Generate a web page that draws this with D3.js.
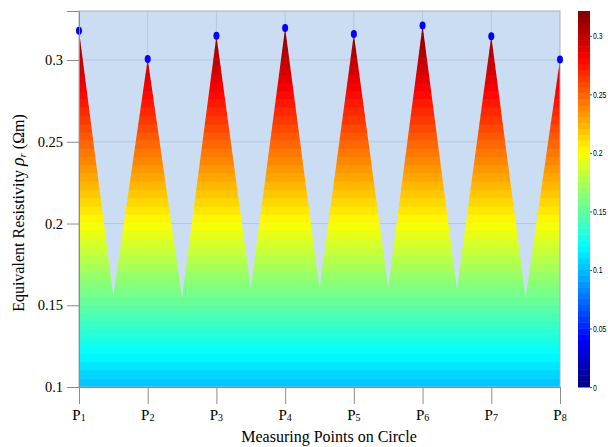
<!DOCTYPE html>
<html>
<head>
<meta charset="utf-8">
<script src="https://cdn.jsdelivr.net/npm/d3@7"></script>
<style>
	body { margin: 0; background: #fff; }
	svg { display: block; }
</style>
</head>
<body>
<div id="chart"></div>
<script>

// measuring points and the values
const points = ['1', '2', '3', '4', '5', '6', '7', '8']
const peaks = [0.3179, 0.3006, 0.3149, 0.3196, 0.3159, 0.3212, 0.3145, 0.3004]
// minimum between two neighbouring points
const valleys = [0.1554, 0.1544, 0.1600, 0.1599, 0.1605, 0.1595, 0.1544]
const yTicks = [0.1, 0.15, 0.2, 0.25, 0.3]
const cbTicks = [0, 0.05, 0.1, 0.15, 0.2, 0.25, 0.3]
const levels = 64

const width = 608
	, height = 447
	, plotLeft = 79
	, plotRight = 560
	, plotTop = 11
	, plotBottom = 387

// matlab like jet colormap
function jet(t) {
	const c = v => Math.round(255 * Math.max(0, Math.min(1, v)))
	return d3.rgb(c(1.5 - Math.abs(4 * t - 3)), c(1.5 - Math.abs(4 * t - 2)), c(1.5 - Math.abs(4 * t - 1)))
}

const cmax = d3.max(peaks)

const x = d3.scaleLinear()
	.domain([0, points.length - 1])
	.range([plotLeft, plotRight])
const y = d3.scaleLinear()
	.domain([0.1, 0.33])
	.range([plotBottom, plotTop])
const cy = d3.scaleLinear()
	.domain([0, cmax])
	.range([plotBottom, plotTop])

// profile: peak, valley, peak, ...
const profile = []
peaks.forEach(function (p, i) {
	profile.push({ x: i, v: p })
	if (i < valleys.length) profile.push({ x: i + 0.5, v: valleys[i] })
})

const bands = d3.range(levels).map(k => ({
	lo: k * cmax / levels
	, hi: (k + 1) * cmax / levels
	, color: jet((k + 0.5) / levels)
}))

const svg = d3.select('#chart').append('svg')
	.attr('width', width)
	.attr('height', height)

// plot background
svg.append('rect')
	.attr('x', plotLeft)
	.attr('y', plotTop)
	.attr('width', plotRight - plotLeft)
	.attr('height', plotBottom - plotTop)
	.attr('fill', '#cbddf3')

// grid
const grid = svg.append('g')
	.attr('stroke', '#b5c7de')
	.attr('stroke-width', 1)
grid.selectAll('.gx')
	.data(points.slice(1, -1))
	.join('line')
	.attr('x1', (d, i) => x(i + 1))
	.attr('x2', (d, i) => x(i + 1))
	.attr('y1', plotTop)
	.attr('y2', plotBottom)
grid.selectAll('.gy')
	.data(yTicks.slice(1))
	.join('line')
	.attr('x1', plotLeft)
	.attr('x2', plotRight)
	.attr('y1', d => y(d))
	.attr('y2', d => y(d))

// filled profile, banded by colour level
const area = d3.area()
	.x(d => x(d.x))
	.y0(y(0.1))
	.y1(d => y(d.v))

svg.append('clipPath')
	.attr('id', 'profileClip')
	.append('path')
	.attr('d', area(profile))

svg.append('g')
	.attr('clip-path', 'url(#profileClip)')
	.selectAll('rect')
	.data(bands.filter(b => b.hi > 0.1))
	.join('rect')
	.attr('x', plotLeft)
	.attr('width', plotRight - plotLeft)
	.attr('y', d => y(d.hi))
	.attr('height', d => y(d.lo) - y(d.hi) + 0.5)
	.attr('fill', d => d.color)

// frame
svg.append('rect')
	.attr('x', plotLeft)
	.attr('y', plotTop)
	.attr('width', plotRight - plotLeft)
	.attr('height', plotBottom - plotTop)
	.attr('fill', 'none')
	.attr('stroke', '#a9b0b8')
	.attr('stroke-width', 1)

// peak markers
svg.append('g')
	.selectAll('ellipse')
	.data(peaks)
	.join('ellipse')
	.attr('cx', (d, i) => x(i))
	.attr('cy', d => y(d))
	.attr('rx', 3)
	.attr('ry', 4)
	.attr('fill', '#0000ff')

// y axis
const yAxis = svg.append('g')
	.attr('transform', 'translate(' + plotLeft + ',0)')
	.call(d3.axisLeft(y).tickValues(yTicks).tickSize(12).tickPadding(4).tickFormat(d3.format('')))
yAxis.select('.domain').attr('stroke', '#8c8c8c')
yAxis.selectAll('.tick line').attr('stroke', '#8c8c8c')
yAxis.selectAll('.tick text')
	.attr('font-family', '"Liberation Serif", "Times New Roman", serif')
	.attr('font-size', 14.5)
	.attr('fill', '#000')

// x axis
const xAxis = svg.append('g')
	.attr('transform', 'translate(0,' + plotBottom + ')')
	.call(d3.axisBottom(x).ticks(points.length).tickSize(17).tickFormat(''))
xAxis.select('.domain').attr('stroke', '#8c8c8c')
xAxis.selectAll('.tick line').attr('stroke', '#8c8c8c')

const xLabels = svg.append('g')
	.attr('font-family', '"Liberation Serif", "Times New Roman", serif')
	.attr('fill', '#000')
	.selectAll('text')
	.data(points)
	.join('text')
	.attr('x', (d, i) => x(i))
	.attr('y', 420)
	.attr('text-anchor', 'middle')
xLabels.append('tspan').attr('font-size', 15).text('P')
xLabels.append('tspan').attr('font-size', 10).attr('dy', 1).text(d => d)

svg.append('text')
	.attr('x', 329)
	.attr('y', 442)
	.attr('text-anchor', 'middle')
	.attr('font-family', '"Liberation Serif", "Times New Roman", serif')
	.attr('font-size', 16)
	.text('Measuring Points on Circle')

const yTitle = svg.append('text')
	.attr('transform', 'translate(24,213) rotate(-90)')
	.attr('text-anchor', 'middle')
	.attr('font-family', '"Liberation Serif", "Times New Roman", serif')
	.attr('font-size', 16)
yTitle.append('tspan').text('Equivalent Resistivity  ')
yTitle.append('tspan').attr('font-style', 'italic').attr('font-size', 18).text('ρ')
yTitle.append('tspan').attr('font-style', 'italic').attr('font-size', 11).attr('dy', 2).text('r')
yTitle.append('tspan').attr('dy', -2).text(' (Ωm)')

// colorbar
const cb = svg.append('g')
cb.selectAll('rect')
	.data(bands)
	.join('rect')
	.attr('x', 578)
	.attr('width', 12)
	.attr('y', d => cy(d.hi))
	.attr('height', d => cy(d.lo) - cy(d.hi) + 0.5)
	.attr('fill', d => d.color)

const cbAxis = svg.append('g')
	.attr('transform', 'translate(590,0)')
	.call(d3.axisRight(cy).tickValues(cbTicks).tickSize(2).tickFormat(d3.format('')))
cbAxis.select('.domain').remove()
cbAxis.selectAll('.tick line').attr('stroke', '#555')
// narrow labels, squeezed horizontally as in the original
cbAxis.selectAll('.tick text')
	.attr('x', 0)
	.attr('transform', 'translate(3,0) scale(0.72,1)')
	.attr('font-family', '"Liberation Sans", Arial, sans-serif')
	.attr('font-size', 9.5)
	.attr('fill', '#000')

</script>
</body>
</html>
